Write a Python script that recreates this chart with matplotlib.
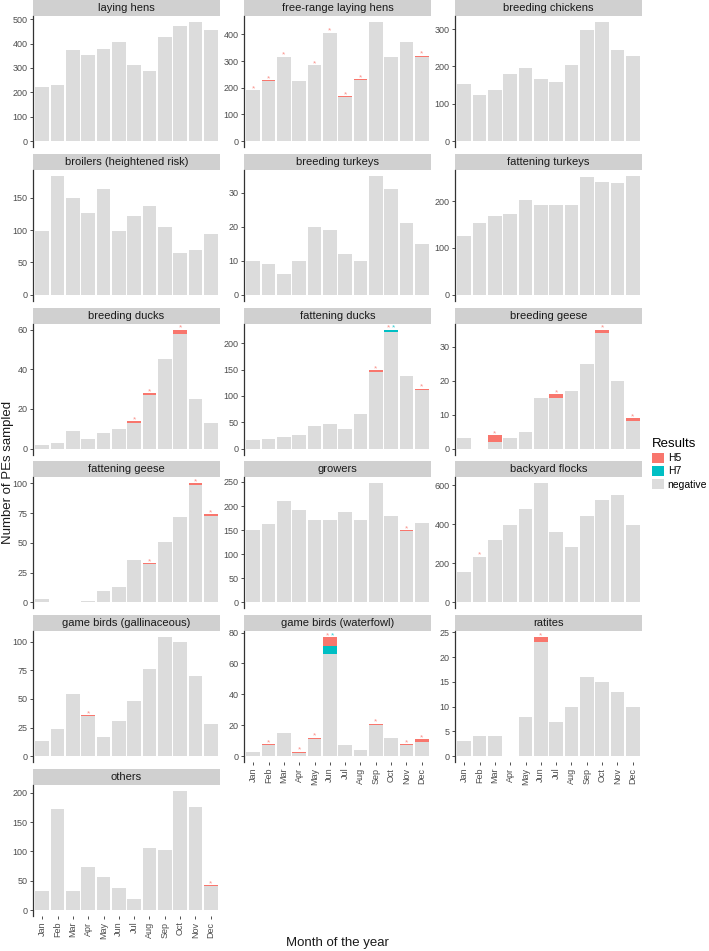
import matplotlib
matplotlib.use("Agg")
import matplotlib.pyplot as plt
from matplotlib.patches import Rectangle, Patch
from matplotlib.ticker import MultipleLocator
import numpy as np

plt.rcParams["font.family"] = ["Liberation Sans", "DejaVu Sans"]

months = ["Jan", "Feb", "Mar", "Apr", "May", "Jun",
          "Jul", "Aug", "Sep", "Oct", "Nov", "Dec"]

panels = ["laying hens", "free-range laying hens", "breeding chickens",
          "broilers (heightened risk)", "breeding turkeys", "fattening turkeys",
          "breeding ducks", "fattening ducks", "breeding geese",
          "fattening geese", "growers", "backyard flocks",
          "game birds (gallinaceous)", "game birds (waterfowl)", "ratites",
          "others"]

# negative results per month
neg_laying_hens = [223, 232, 373, 352, 378, 406, 312, 286, 426, 473, 489, 456]
neg_free_range = [190, 224, 316, 225, 284, 406, 167, 229, 447, 315, 370, 317]
neg_breeding_chickens = [154, 123, 138, 179, 196, 167, 158, 204, 298, 319, 245, 227]
neg_broilers = [98, 184, 149, 126, 163, 98, 122, 137, 105, 65, 70, 94]
neg_breeding_turkeys = [10, 9, 6, 10, 20, 19, 12, 10, 35, 31, 21, 15]
neg_fattening_turkeys = [126, 154, 168, 172, 203, 192, 191, 192, 252, 240, 239, 254]
neg_breeding_ducks = [2, 3, 9, 5, 8, 10, 13, 27, 45, 58, 25, 13]
neg_fattening_ducks = [16, 19, 22, 25, 43, 46, 37, 66, 146, 222, 138, 112]
neg_breeding_geese = [3, 0, 2, 3, 5, 15, 15, 17, 25, 34, 20, 8]
neg_fattening_geese = [3, 0, 0, 1, 10, 13, 36, 32, 51, 72, 99, 73]
neg_growers = [151, 162, 210, 191, 170, 170, 188, 170, 247, 180, 149, 165]
neg_backyard = [154, 234, 318, 399, 481, 611, 361, 282, 441, 524, 551, 395]
neg_gallinaceous = [13, 24, 54, 35, 17, 31, 48, 76, 104, 100, 70, 28]
neg_waterfowl = [3, 7, 15, 2, 11, 66, 7, 4, 20, 12, 7, 9]
neg_ratites = [3, 4, 4, 0, 8, 23, 7, 10, 16, 15, 13, 10]
neg_others = [32, 172, 32, 74, 56, 38, 18, 106, 102, 203, 176, 41]

# positive results: panel -> {month index: count}
h5_pos = {
    "free-range laying hens": {0: 1, 1: 4, 2: 1, 4: 1, 5: 1, 6: 1, 7: 4, 11: 4},
    "breeding ducks": {6: 1, 7: 1, 9: 2},
    "fattening ducks": {8: 3, 9: 1, 11: 2},
    "breeding geese": {2: 2, 6: 1, 9: 1, 11: 1},
    "fattening geese": {7: 1, 10: 1, 11: 1},
    "growers": {10: 1},
    "backyard flocks": {1: 1},
    "game birds (gallinaceous)": {3: 1},
    "game birds (waterfowl)": {1: 1, 3: 1, 4: 1, 5: 6, 8: 1, 10: 1, 11: 2},
    "ratites": {5: 1},
    "others": {11: 1},
}
h7_pos = {
    "fattening ducks": {9: 3},
    "game birds (waterfowl)": {5: 5},
}

negatives = [neg_laying_hens, neg_free_range, neg_breeding_chickens,
             neg_broilers, neg_breeding_turkeys, neg_fattening_turkeys,
             neg_breeding_ducks, neg_fattening_ducks, neg_breeding_geese,
             neg_fattening_geese, neg_growers, neg_backyard,
             neg_gallinaceous, neg_waterfowl, neg_ratites, neg_others]
tick_steps = [100, 100, 100, 50, 10, 100, 20, 50, 10, 25, 50, 200, 25, 20, 5, 50]

c_h5, c_h7, c_neg = "#F8766D", "#00BFC4", "#DCDCDC"

W, H = 709, 951
fig = plt.figure(figsize=(W / 100, H / 100), dpi=100)

col_left = [33, 244, 455]
pw, ph, sh = 187, 131, 16
row_step = 153.8

x = np.arange(1, 13)
for i, name in enumerate(panels):
    r, c = divmod(i, 3)
    top = r * row_step + sh
    ax = fig.add_axes([col_left[c] / W, 1 - (top + ph) / H, pw / W, ph / H])

    neg = np.array(negatives[i], dtype=float)
    h5 = np.zeros(12)
    h7 = np.zeros(12)
    for m, v in h5_pos.get(name, {}).items():
        h5[m] = v
    for m, v in h7_pos.get(name, {}).items():
        h7[m] = v
    total = neg + h5 + h7

    ax.bar(x, neg, width=0.9, color=c_neg, linewidth=0)
    ax.bar(x, h7, bottom=neg, width=0.9, color=c_h7, linewidth=0)
    ax.bar(x, h5, bottom=neg + h7, width=0.9, color=c_h5, linewidth=0)

    # asterisks above positive months
    for m in range(12):
        marks = []
        if h5[m] > 0:
            marks.append(c_h5)
        if h7[m] > 0:
            marks.append(c_h7)
        offs = [0] if len(marks) == 1 else [-2, 2]
        for col, dx in zip(marks, offs):
            ax.annotate("*", (x[m], total[m]), xytext=(dx, -1.5),
                        textcoords="offset points", ha="center", va="bottom",
                        fontsize=6, color=col, alpha=0.8)

    ymax = total.max()
    ax.set_ylim(-0.05 * ymax, 1.05 * ymax)
    ax.set_xlim(0.4, 12.6)
    ax.yaxis.set_major_locator(MultipleLocator(tick_steps[i]))

    for s in ["top", "right", "bottom"]:
        ax.spines[s].set_visible(False)
    ax.spines["left"].set_color("#333333")
    ax.spines["left"].set_linewidth(0.9)
    ax.tick_params(axis="y", length=2.5, width=0.6, color="#333333",
                   labelsize=6.5, labelcolor="#4D4D4D", pad=1.5)

    if i >= len(panels) - 3:
        ax.set_xticks(x)
        ax.set_xticklabels(months, rotation=90)
        ax.tick_params(axis="x", length=2.5, width=0.6, color="#333333",
                       labelsize=6.5, labelcolor="#4D4D4D", pad=1.5)
    else:
        ax.set_xticks([])

    # facet strip
    ax.add_patch(Rectangle((0, 1), 1, sh / ph, transform=ax.transAxes,
                           facecolor="#D0D0D0", edgecolor="none", clip_on=False))
    ax.text(0.5, 1 + sh / ph / 2, name, transform=ax.transAxes, ha="center",
            va="center", fontsize=8, color="#1A1A1A")

fig.text(8 / W, 1 - 472 / H, "Number of PEs sampled", rotation=90,
         ha="center", va="center", fontsize=9.5, color="#1A1A1A")
fig.text(337 / W, 1 - 943 / H, "Month of the year", ha="center", va="center",
         fontsize=9.5, color="#1A1A1A")

handles = [Patch(facecolor=c_h5), Patch(facecolor=c_h7), Patch(facecolor=c_neg)]
leg = fig.legend(handles, ["H5", "H7", "negative"], title="Results",
                 loc="upper left", bbox_to_anchor=(650 / W, 1 - 436 / H),
                 frameon=False, fontsize=7.5, title_fontsize=9.5,
                 handlelength=1.1, handleheight=1.1, handletextpad=0.4,
                 labelspacing=0.25, alignment="left", borderaxespad=0,
                 borderpad=0.2)

fig.savefig("out.png", dpi=100)
